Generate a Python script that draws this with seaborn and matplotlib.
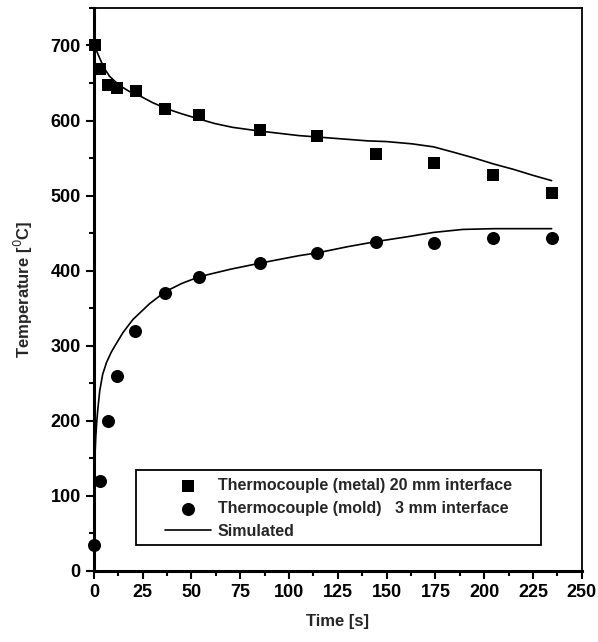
import matplotlib
matplotlib.use("Agg")
import matplotlib.pyplot as plt
from matplotlib.ticker import MultipleLocator
from matplotlib.patches import Rectangle
import seaborn as sns

sns.set_theme(style="ticks")
plt.rcParams['font.family'] = ['Liberation Sans', 'DejaVu Sans']

# Measured data
metal_time = [0.5, 3, 7, 12, 21.5, 36.5, 54, 85, 114.5, 144.5, 174.5, 204.5, 234.5]
metal_temp = [700, 669, 647, 644, 639, 615, 608, 587, 579, 556, 543, 528, 503]
mold_time = [0.2, 3, 7, 12, 21, 36.5, 54, 85, 114.5, 144.5, 174.5, 204.5, 234.5]
mold_temp = [35, 120, 200, 260, 320, 370, 392, 410, 424, 438, 437, 443, 443]

# Simulated curves
sim_metal_time = [0, 1.5, 3, 5, 8, 13, 18, 23.5, 30, 37, 45, 54, 62, 71, 85, 95, 105, 115, 130, 140, 150, 163, 174, 184, 195, 205, 215, 225, 234.5]
sim_metal_temp = [702, 692, 683, 671, 659, 647, 639, 633, 624, 616, 609, 602, 596, 591, 586, 583, 580, 578, 575, 573, 572, 569, 565, 558, 550, 542, 535, 527, 520]
sim_mold_time = [0, 0.5, 1, 1.5, 2, 3, 4.5, 6.5, 9, 11.5, 15, 20, 28.5, 36.5, 45, 54, 70, 85, 95, 105, 115, 130, 145, 160, 174, 189, 205, 220, 234.5]
sim_mold_temp = [35, 150, 180, 200, 215, 240, 262, 278, 292, 303, 318, 335, 356, 372, 383, 392, 402, 410, 415, 420, 424, 432, 439, 445, 451, 455, 456, 456, 456]

W, H = 598, 642
fig = plt.figure(figsize=(W / 100, H / 100), dpi=100)
ax = fig.add_axes([0.157, 0.1106, 0.816, 0.877])

sns.lineplot(x=sim_metal_time, y=sim_metal_temp, ax=ax, color='black', lw=1.2,
             label='Simulated', sort=False, zorder=2)
sns.lineplot(x=sim_mold_time, y=sim_mold_temp, ax=ax, color='black', lw=1.2,
             sort=False, zorder=2)
sns.scatterplot(x=metal_time, y=metal_temp, ax=ax, marker='s', s=70, color='black',
                edgecolor='black', linewidth=0,
                label='Thermocouple (metal) 20 mm interface', zorder=3, clip_on=False)
sns.scatterplot(x=mold_time, y=mold_temp, ax=ax, marker='o', s=88, color='black',
                edgecolor='black', linewidth=0,
                label='Thermocouple (mold)   3 mm interface', zorder=3, clip_on=False)

ax.set_xlim(0, 250)
ax.set_ylim(0, 750)
ax.xaxis.set_major_locator(MultipleLocator(25))
ax.xaxis.set_minor_locator(MultipleLocator(12.5))
ax.yaxis.set_major_locator(MultipleLocator(100))
ax.yaxis.set_minor_locator(MultipleLocator(50))
ax.tick_params(which='major', direction='out', length=6, width=1.5, labelsize=13,
               color='black', labelcolor='black')
ax.tick_params(which='minor', direction='out', length=3.5, width=1.5, color='black')
ax.tick_params(axis='both', top=False, right=False)
for lab in ax.get_xticklabels() + ax.get_yticklabels():
    lab.set_fontweight('bold')
for s in ['left', 'bottom']:
    ax.spines[s].set_linewidth(2.2)
for s in ['top', 'right']:
    ax.spines[s].set_linewidth(1.3)
for s in ax.spines.values():
    s.set_color('black')

ax.set_xlabel('Time [s]', fontsize=12, fontweight='bold', labelpad=9)
ax.set_ylabel('Temperature [$^{0}$C]', fontsize=12, fontweight='bold', labelpad=11)

handles, labels = ax.get_legend_handles_labels()
order = [labels.index('Thermocouple (metal) 20 mm interface'),
         labels.index('Thermocouple (mold)   3 mm interface'),
         labels.index('Simulated')]
leg = ax.legend([handles[i] for i in order], [labels[i] for i in order],
                loc='upper left', bbox_to_anchor=(165 / W, 1 - 478 / H),
                bbox_transform=fig.transFigure,
                frameon=False, prop={'size': 11.5, 'weight': 'bold'},
                handlelength=2.9, handletextpad=0.4, borderpad=0,
                borderaxespad=0, labelspacing=0.5)

# frame around legend, with generous side padding as in the original
fig.canvas.draw()
ext = leg.get_window_extent()
pad_l, pad_r, pad_t, pad_b = 29, 29, 8, 6
rect = Rectangle((ext.x0 - pad_l, ext.y0 - pad_b),
                 ext.width + pad_l + pad_r, ext.height + pad_t + pad_b,
                 transform=None, facecolor='white', edgecolor='black',
                 linewidth=1.3, zorder=4)
fig.add_artist(rect)
leg.set_zorder(5)
fig.add_artist(leg)

fig.savefig('out.png', dpi=100)
